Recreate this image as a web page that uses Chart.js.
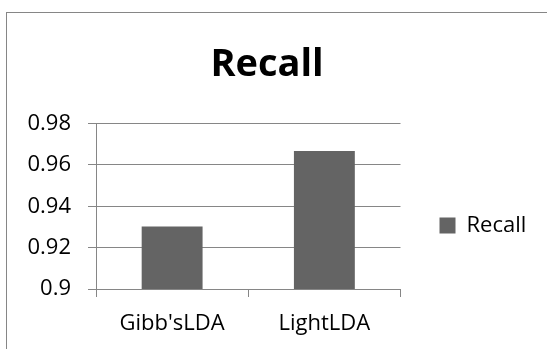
<!DOCTYPE html>
<html>
<head>
<meta charset="utf-8">
<script src="https://cdn.jsdelivr.net/npm/chart.js@4/dist/chart.umd.min.js"></script>
<style>
  html, body { margin: 0; padding: 0; background: #ffffff; }
  #wrap { position: relative; width: 547px; height: 349px; }
</style>
</head>
<body>
<div id="wrap"><canvas id="c" width="547" height="349"></canvas></div>
<script>
// Recall of the two LDA implementations
const categories = ["Gibb'sLDA", "LightLDA"];
const recallValues = [0.9302, 0.9668];
const yTicks = [0.9, 0.92, 0.94, 0.96, 0.98];

const FONT = "'Open Sans', 'Liberation Sans', sans-serif";
const GRID = '#868686';
const BAR = '#646464';

// outer frame of the chart object
const framePlugin = {
  id: 'frame',
  beforeDraw(chart) {
    const ctx = chart.ctx;
    ctx.save();
    ctx.fillStyle = '#ffffff';
    ctx.fillRect(0, 0, chart.width, chart.height);
    ctx.strokeStyle = GRID;
    ctx.lineWidth = 1;
    ctx.strokeRect(6.5, 12.5, 700, 500);
    ctx.restore();
  }
};

new Chart(document.getElementById('c'), {
  type: 'bar',
  data: {
    labels: categories,
    datasets: [{
      label: 'Recall',
      data: recallValues,
      backgroundColor: BAR,
      borderWidth: 0,
      barPercentage: 0.4,
      categoryPercentage: 1.0
    }]
  },
  options: {
    responsive: false,
    animation: false,
    devicePixelRatio: 1,
    layout: { padding: { left: 0, right: 13, top: 14, bottom: 12 } },
    plugins: {
      title: {
        display: true,
        text: 'Recall',
        color: '#000000',
        font: { family: FONT, size: 38, weight: 'bold' },
        padding: { top: 28, bottom: 36 }
      },
      legend: {
        display: true,
        position: 'right',
        fullSize: false,
        title: {
          display: true,
          text: '',
          font: { family: FONT, size: 12 },
          padding: { top: 12, bottom: 12 }
        },
        labels: {
          color: '#000000',
          font: { family: FONT, size: 22 },
          boxWidth: 16,
          boxHeight: 16,
          padding: 39
        }
      },
      tooltip: { enabled: false }
    },
    scales: {
      x: {
        afterFit(scale) { scale.height = 48; },
        grid: {
          display: true,
          drawOnChartArea: false,
          drawTicks: true,
          tickLength: 8,
          color: GRID,
          offset: true
        },
        border: { display: true, color: GRID, width: 1 },
        ticks: {
          color: '#000000',
          font: { family: FONT, size: 22 },
          padding: 14,
          maxRotation: 0
        }
      },
      y: {
        min: 0.9,
        max: 0.98,
        afterFit(scale) { scale.width = 96; },
        afterBuildTicks(scale) { scale.ticks = yTicks.map(v => ({ value: v })); },
        grid: {
          display: true,
          drawOnChartArea: true,
          drawTicks: true,
          tickLength: 8,
          color: GRID
        },
        border: { display: true, color: GRID, width: 1 },
        ticks: {
          color: '#000000',
          font: { family: FONT, size: 22 },
          padding: 17,
          callback: v => String(Math.round(v * 100) / 100)
        }
      }
    }
  },
  plugins: [framePlugin]
});
</script>
</body>
</html>
